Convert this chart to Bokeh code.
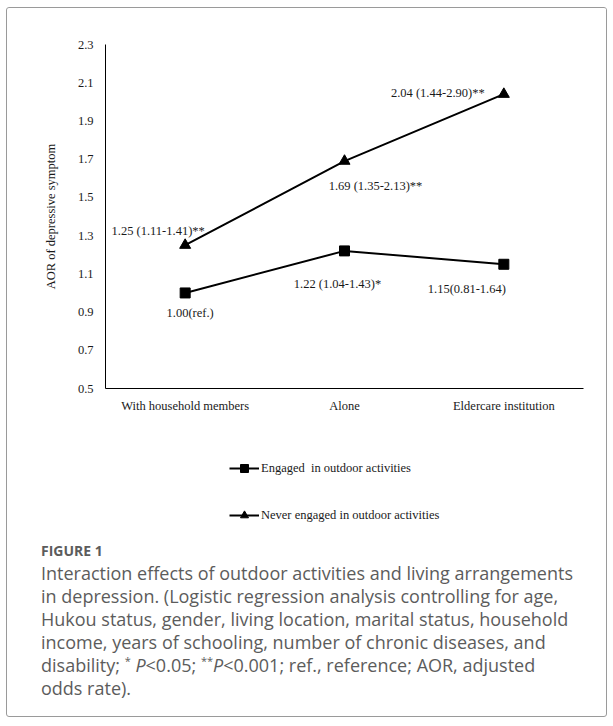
from bokeh.plotting import figure
from bokeh.models import (Legend, LegendItem, Div, ColumnDataSource, FixedTicker,
                          Range1d, FactorRange, LabelSet)
from bokeh.layouts import column
from bokeh.embed import file_html
from bokeh.resources import INLINE
from bokeh.core.properties import value

# ---------------- data ----------------
categories = ["With household members", "Alone", "Eldercare institution"]
engaged = [1.00, 1.22, 1.15]
never = [1.25, 1.69, 2.04]
engaged_labels = ["1.00(ref.)", "1.22 (1.04-1.43)*", "1.15(0.81-1.64)"]
never_labels = ["1.25 (1.11-1.41)**", "1.69 (1.35-2.13)**", "2.04 (1.44-2.90)**"]
y_ticks = [0.5, 0.7, 0.9, 1.1, 1.3, 1.5, 1.7, 1.9, 2.1, 2.3]
series_names = ["Engaged\u00a0 in outdoor activities", "Never engaged in outdoor activities"]
y_title = "AOR of depressive symptom"

# label placement (screen px offsets, style only)
engaged_dx = [5, -7, -37]
engaged_dy = [-20, -33, -25]
never_dx = [-27, 31, -66]
never_dy = [14, -25, 1]

SERIF = "Liberation Serif"
FS = "12.5px"
INK = "#1a1a1a"

src_e = ColumnDataSource(dict(x=categories, y=engaged, t=engaged_labels,
                              dx=engaged_dx, dy=engaged_dy))
src_n = ColumnDataSource(dict(x=categories, y=never, t=never_labels,
                              dx=never_dx, dy=never_dy))

p = figure(x_range=FactorRange(*categories, range_padding=0),
           y_range=Range1d(0.5, 2.3),
           width=599, height=410,
           min_border_left=98, min_border_right=23, min_border_top=36,
           min_border_bottom=30,
           output_backend="svg", toolbar_location=None,
           background_fill_color="white", border_fill_color="white")
p.outline_line_color = None
p.xgrid.visible = False
p.ygrid.visible = False

for ax in (p.xaxis, p.yaxis):
    ax.major_tick_line_color = None
    ax.minor_tick_line_color = None
    ax.axis_line_color = "black"
    ax.axis_line_width = 1
    ax.major_label_text_font = SERIF
    ax.major_label_text_font_size = FS
    ax.major_label_text_color = INK

p.yaxis.ticker = FixedTicker(ticks=y_ticks)
p.yaxis.major_label_standoff = 6
p.yaxis.axis_label = y_title
p.yaxis.axis_label_text_font = SERIF
p.yaxis.axis_label_text_font_size = FS
p.yaxis.axis_label_text_font_style = "normal"
p.yaxis.axis_label_text_color = INK
p.yaxis.axis_label_standoff = 17
p.xaxis.major_label_standoff = 4

p.line("x", "y", source=src_e, line_color="black", line_width=2)
p.scatter("x", "y", source=src_e, marker="square", size=10,
          fill_color="black", line_color="black")
p.line("x", "y", source=src_n, line_color="black", line_width=2)
p.scatter("x", "y", source=src_n, marker="triangle", size=11,
          fill_color="black", line_color="black")

for src in (src_e, src_n):
    ls = LabelSet(x="x", y="y", text="t", source=src, x_offset="dx", y_offset="dy",
                  text_align="center", text_baseline="middle",
                  text_font=value(SERIF), text_font_size=FS, text_color=INK)
    p.add_layout(ls)

# ---- legend strip (separate small figure under the chart) ----
# same series drawn here but outside the visible y-range, only to feed the legend
lf = figure(width=599, height=122,
            x_range=FactorRange(*categories, range_padding=0),
            y_range=Range1d(10, 11),
            x_axis_location=None, y_axis_location=None,
            min_border_left=98, min_border_top=0, min_border_right=23,
            min_border_bottom=0,
            output_backend="svg", toolbar_location=None,
            background_fill_color="white", border_fill_color="white")
lf.grid.visible = False
lf.outline_line_color = None
le_l = lf.line("x", "y", source=src_e, line_color="black", line_width=2)
le_m = lf.scatter("x", "y", source=src_e, marker="square", size=8,
                  fill_color="black", line_color="black")
ln_l = lf.line("x", "y", source=src_n, line_color="black", line_width=2)
ln_m = lf.scatter("x", "y", source=src_n, marker="triangle", size=9,
                  fill_color="black", line_color="black")
legend = Legend(items=[LegendItem(label=series_names[0], renderers=[le_l, le_m]),
                       LegendItem(label=series_names[1], renderers=[ln_l, ln_m])],
                orientation="vertical", location=(124, 15),
                glyph_width=30, glyph_height=20, label_height=20,
                spacing=27, padding=4, margin=0, label_standoff=2,
                label_text_font=SERIF, label_text_font_size=FS,
                label_text_color=INK,
                background_fill_alpha=0, border_line_color=None)
lf.add_layout(legend, "center")

caption_html = (
    '<div style="font-family: \'Open Sans\', sans-serif; color:#5c5c5c; '
    'padding-left:34px; padding-bottom:16px; white-space:nowrap;">'
    '<div style="font-size:14px; font-weight:bold; line-height:22px;">FIGURE 1</div>'
    '<div style="font-size:18px; line-height:23px;">'
    'Interaction effects of outdoor activities and living arrangements<br>'
    'in depression. (Logistic regression analysis controlling for age,<br>'
    'Hukou status, gender, living location, marital status, household<br>'
    'income, years of schooling, number of chronic diseases, and<br>'
    'disability; <sup style="font-size:11px; line-height:0">*</sup> <i>P</i>&lt;0.05; '
    '<sup style="font-size:11px; line-height:0">**</sup><i>P</i>&lt;0.001; ref., reference; AOR, adjusted<br>'
    'odds rate).</div></div>'
)
cap = Div(text=caption_html, width=599, margin=(0, 0, 0, 0))

layout = column(p, lf, cap, margin=(7, 0, 0, 6),
                styles={"border": "1.5px solid #9a9a9a", "border-radius": "3px",
                        "background": "white"})

open("out.html", "w").write(file_html(layout, INLINE))
